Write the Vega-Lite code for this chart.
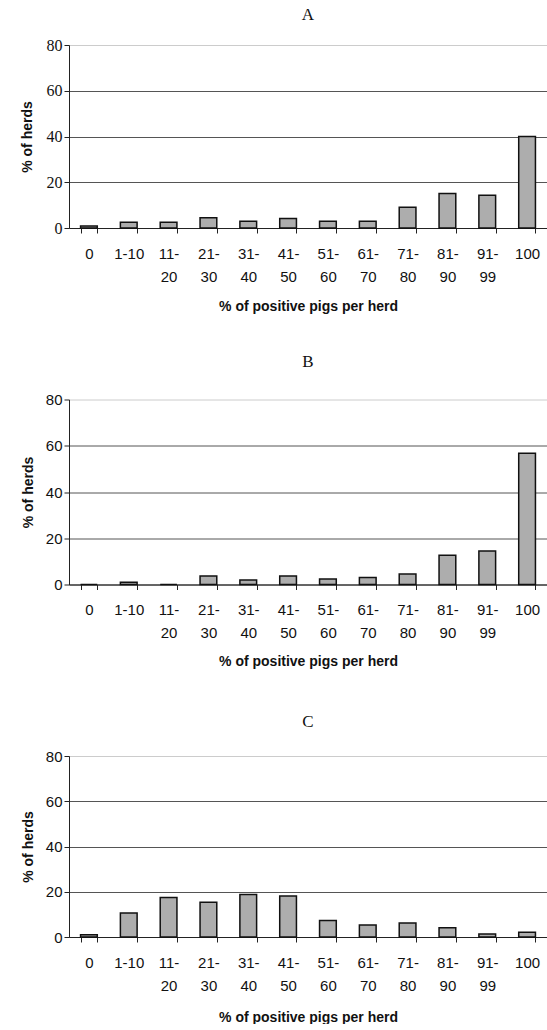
{
  "$schema": "https://vega.github.io/schema/vega-lite/v6.json",
  "background": "white",
  "padding": {"left": 20, "top": 6, "right": 0, "bottom": 0},
  "spacing": 171.5,
  "bounds": "flush",
  "datasets": {
    "herds": [
      {"panel": "A", "range": "0", "pct": 0.9},
      {"panel": "A", "range": "1-10", "pct": 2.5},
      {"panel": "A", "range": "11-20", "pct": 2.5},
      {"panel": "A", "range": "21-30", "pct": 4.5},
      {"panel": "A", "range": "31-40", "pct": 2.9},
      {"panel": "A", "range": "41-50", "pct": 4.2},
      {"panel": "A", "range": "51-60", "pct": 2.9},
      {"panel": "A", "range": "61-70", "pct": 2.9},
      {"panel": "A", "range": "71-80", "pct": 9.1},
      {"panel": "A", "range": "81-90", "pct": 15.1},
      {"panel": "A", "range": "91-99", "pct": 14.3},
      {"panel": "A", "range": "100", "pct": 40},
      {"panel": "B", "range": "0", "pct": 0},
      {"panel": "B", "range": "1-10", "pct": 1},
      {"panel": "B", "range": "11-20", "pct": 0},
      {"panel": "B", "range": "21-30", "pct": 3.7},
      {"panel": "B", "range": "31-40", "pct": 1.9},
      {"panel": "B", "range": "41-50", "pct": 3.7},
      {"panel": "B", "range": "51-60", "pct": 2.4},
      {"panel": "B", "range": "61-70", "pct": 3.0},
      {"panel": "B", "range": "71-80", "pct": 4.5},
      {"panel": "B", "range": "81-90", "pct": 12.7},
      {"panel": "B", "range": "91-99", "pct": 14.5},
      {"panel": "B", "range": "100", "pct": 56.8},
      {"panel": "C", "range": "0", "pct": 1},
      {"panel": "C", "range": "1-10", "pct": 10.6},
      {"panel": "C", "range": "11-20", "pct": 17.5},
      {"panel": "C", "range": "21-30", "pct": 15.4},
      {"panel": "C", "range": "31-40", "pct": 18.8},
      {"panel": "C", "range": "41-50", "pct": 18.1},
      {"panel": "C", "range": "51-60", "pct": 7.3},
      {"panel": "C", "range": "61-70", "pct": 5.3},
      {"panel": "C", "range": "71-80", "pct": 6.2},
      {"panel": "C", "range": "81-90", "pct": 4.1},
      {"panel": "C", "range": "91-99", "pct": 1.3},
      {"panel": "C", "range": "100", "pct": 2.1}
    ]
  },
  "config": {
    "view": {"stroke": null},
    "style": {"guide-label": {"lineBreak": "|"}},
    "title": {"font": "Liberation Serif", "fontSize": 17, "fontWeight": "normal", "color": "#111", "anchor": "middle"},
    "axis": {
      "labelFont": "Liberation Sans", "labelFontSize": 15, "labelColor": "#111",
      "titleFont": "Liberation Sans", "titleFontSize": 14, "titleFontWeight": "bold", "titleColor": "#111",
      "domainColor": "#222", "tickColor": "#222", "gridWidth": 1
    },
    "axisY": {
      "gridColor": {"condition": {"test": "datum.value == 80", "value": "#999"}, "value": "#555"},
      "gridDash": {"condition": {"test": "datum.value == 80", "value": [1, 1]}, "value": []}
    }
  },
  "vconcat": [
    {
      "data": {"name": "herds"},
      "title": {"text": "A", "offset": 13},
      "width": 478, "height": 183,
      "transform": [{"filter": "datum.panel == 'A'"}],
      "mark": {"type": "bar", "fill": "#adadad", "stroke": "#111", "strokeWidth": 1.5},
      "encoding": {
        "x": {"field": "range", "type": "nominal", "sort": ["0","1-10","11-20","21-30","31-40","41-50","51-60","61-70","71-80","81-90","91-99","100"],
          "scale": {"paddingInner": 0.58, "paddingOuter": 0.29},
          "axis": {"title": "% of positive pigs per herd", "labelAngle": 0, "tickBand": "extent", "tickSize": 5, "labelPadding": 13, "labelLineHeight": 23, "titlePadding": 15,
            "labelExpr": "isValid(datum.value) ? (datum.value == '1-10' ? datum.value : replace(datum.value, '-', '-|')) : ''"}},
        "y": {"field": "pct", "type": "quantitative", "scale": {"domain": [0, 80]},
          "axis": {"title": "% of herds", "values": [0,20,40,60,80], "tickSize": 5, "labelFont": "Liberation Serif", "labelFontSize": 16, "titlePadding": 12}}
      }
    },
    {
      "data": {"name": "herds"},
      "title": {"text": "B", "offset": 22},
      "width": 478, "height": 185,
      "transform": [{"filter": "datum.panel == 'B'"}],
      "mark": {"type": "bar", "fill": "#adadad", "stroke": "#111", "strokeWidth": 1.5},
      "encoding": {
        "x": {"field": "range", "type": "nominal", "sort": ["0","1-10","11-20","21-30","31-40","41-50","51-60","61-70","71-80","81-90","91-99","100"],
          "scale": {"paddingInner": 0.58, "paddingOuter": 0.29},
          "axis": {"title": "% of positive pigs per herd", "labelAngle": 0, "tickBand": "extent", "tickSize": 5, "labelPadding": 13, "labelLineHeight": 23, "titlePadding": 14,
            "labelExpr": "isValid(datum.value) ? (datum.value == '1-10' ? datum.value : replace(datum.value, '-', '-|')) : ''"}},
        "y": {"field": "pct", "type": "quantitative", "scale": {"domain": [0, 80]},
          "axis": {"title": "% of herds", "values": [0,20,40,60,80], "tickSize": 5, "titlePadding": 10}}
      }
    },
    {
      "data": {"name": "herds"},
      "title": {"text": "C", "offset": 18},
      "width": 478, "height": 181,
      "transform": [{"filter": "datum.panel == 'C'"}],
      "mark": {"type": "bar", "fill": "#adadad", "stroke": "#111", "strokeWidth": 1.5},
      "encoding": {
        "x": {"field": "range", "type": "nominal", "sort": ["0","1-10","11-20","21-30","31-40","41-50","51-60","61-70","71-80","81-90","91-99","100"],
          "scale": {"paddingInner": 0.58, "paddingOuter": 0.29},
          "axis": {"title": "% of positive pigs per herd", "labelAngle": 0, "tickBand": "extent", "tickSize": 5, "labelPadding": 13, "labelLineHeight": 23, "titlePadding": 17,
            "labelExpr": "isValid(datum.value) ? (datum.value == '1-10' ? datum.value : replace(datum.value, '-', '-|')) : ''"}},
        "y": {"field": "pct", "type": "quantitative", "scale": {"domain": [0, 80]},
          "axis": {"title": "% of herds", "values": [0,20,40,60,80], "tickSize": 5, "titlePadding": 10}}
      }
    }
  ]
}
